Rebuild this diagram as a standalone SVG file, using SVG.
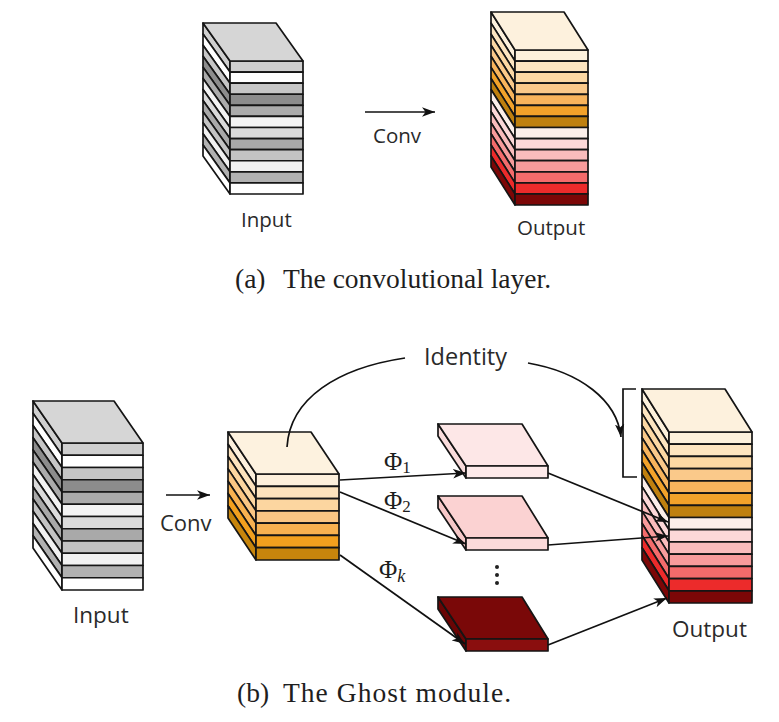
<svg xmlns="http://www.w3.org/2000/svg" width="779" height="722" viewBox="0 0 779 722">
<style>
.lbl{font-family:"Open Sans","DejaVu Sans",sans-serif;fill:#2a2a2a}
.cap{font-family:"Liberation Serif","Times New Roman",serif;fill:#1e1e1e;font-size:27.5px}
.phi{font-family:"Liberation Serif","DejaVu Serif",serif;fill:#1e1e1e}
.edge{stroke:#151515;stroke-width:1.7;stroke-linejoin:round}
.con{fill:none;stroke:#111;stroke-width:1.7}
</style>
<defs>
<marker id="ah" markerUnits="userSpaceOnUse" markerWidth="14" markerHeight="11" refX="13" refY="5.5" orient="auto">
<path d="M0,0.8 L13,5.5 L0,10.2 L3.5,5.5 z" fill="#111"/>
</marker>
<g id="grayS">
<rect y="0" width="1" height="1" fill="#cfcfcf" vector-effect="non-scaling-stroke"/>
<rect y="1" width="1" height="1" fill="#ffffff" vector-effect="non-scaling-stroke"/>
<rect y="2" width="1" height="1" fill="#c6c6c6" vector-effect="non-scaling-stroke"/>
<rect y="3" width="1" height="1" fill="#8c8c8c" vector-effect="non-scaling-stroke"/>
<rect y="4" width="1" height="1" fill="#ababab" vector-effect="non-scaling-stroke"/>
<rect y="5" width="1" height="1" fill="#f3f3f3" vector-effect="non-scaling-stroke"/>
<rect y="6" width="1" height="1" fill="#dadada" vector-effect="non-scaling-stroke"/>
<rect y="7" width="1" height="1" fill="#a9a9a9" vector-effect="non-scaling-stroke"/>
<rect y="8" width="1" height="1" fill="#c3c3c3" vector-effect="non-scaling-stroke"/>
<rect y="9" width="1" height="1" fill="#f1f1f1" vector-effect="non-scaling-stroke"/>
<rect y="10" width="1" height="1" fill="#b1b1b1" vector-effect="non-scaling-stroke"/>
<rect y="11" width="1" height="1" fill="#ffffff" vector-effect="non-scaling-stroke"/>
</g>
<g id="warmS">
<rect y="0" width="1" height="1" fill="#fdf1dc" vector-effect="non-scaling-stroke"/>
<rect y="1" width="1" height="1" fill="#fde5c0" vector-effect="non-scaling-stroke"/>
<rect y="2" width="1" height="1" fill="#fcd8a3" vector-effect="non-scaling-stroke"/>
<rect y="3" width="1" height="1" fill="#fac98a" vector-effect="non-scaling-stroke"/>
<rect y="4" width="1" height="1" fill="#f8b45c" vector-effect="non-scaling-stroke"/>
<rect y="5" width="1" height="1" fill="#f2a22a" vector-effect="non-scaling-stroke"/>
<rect y="6" width="1" height="1" fill="#bf800f" vector-effect="non-scaling-stroke"/>
<rect y="7" width="1" height="1" fill="#fcefea" vector-effect="non-scaling-stroke"/>
<rect y="8" width="1" height="1" fill="#fcd8d8" vector-effect="non-scaling-stroke"/>
<rect y="9" width="1" height="1" fill="#f9bcbc" vector-effect="non-scaling-stroke"/>
<rect y="10" width="1" height="1" fill="#f79b9b" vector-effect="non-scaling-stroke"/>
<rect y="11" width="1" height="1" fill="#f46b6b" vector-effect="non-scaling-stroke"/>
<rect y="12" width="1" height="1" fill="#ec2b2b" vector-effect="non-scaling-stroke"/>
<rect y="13" width="1" height="1" fill="#7c0707" vector-effect="non-scaling-stroke"/>
</g>
<g id="convS">
<rect y="0" width="1" height="1" fill="#fdf0dc" vector-effect="non-scaling-stroke"/>
<rect y="1" width="1" height="1" fill="#fde3bd" vector-effect="non-scaling-stroke"/>
<rect y="2" width="1" height="1" fill="#fcd6a0" vector-effect="non-scaling-stroke"/>
<rect y="3" width="1" height="1" fill="#fac683" vector-effect="non-scaling-stroke"/>
<rect y="4" width="1" height="1" fill="#f7b150" vector-effect="non-scaling-stroke"/>
<rect y="5" width="1" height="1" fill="#f2a01e" vector-effect="non-scaling-stroke"/>
<rect y="6" width="1" height="1" fill="#c7850c" vector-effect="non-scaling-stroke"/>
</g>
</defs>
<rect width="779" height="722" fill="#ffffff"/>

<g id="top-input">
<g class="edge" transform="translate(230,61)">
<use href="#grayS" transform="skewY(54.6) translate(-27,0) scale(27,11.083)"/>
<use href="#grayS" transform="scale(73,11.083)"/>
<polygon points="0,0 -27,-38 46,-38 73,0" fill="#d6d6d6"/>
</g>
<text class="lbl" x="241" y="227" font-size="20.5">Input</text>
</g>

<g id="top-output">
<g class="edge" transform="translate(515,50)">
<use href="#warmS" transform="skewY(57.7) translate(-24,0) scale(24,11.071)"/>
<use href="#warmS" transform="scale(73,11.071)"/>
<polygon points="0,0 -24,-38 49,-38 73,0" fill="#fdf1dd"/>
</g>
<text class="lbl" x="517" y="235" font-size="20.5">Output</text>
</g>

<g id="top-conv-label">
<text class="lbl" x="373" y="143" font-size="20.5">Conv</text>
</g>

<g id="ghost-input">
<g class="edge" transform="translate(62,443)">
<use href="#grayS" transform="skewY(55.4) translate(-29,0) scale(29,12.25)"/>
<use href="#grayS" transform="scale(81,12.25)"/>
<polygon points="0,0 -29,-42 52,-42 81,0" fill="#d6d6d6"/>
</g>
<text class="lbl" x="73" y="623" font-size="22.5">Input</text>
</g>

<g id="ghost-conv-label">
<text class="lbl" x="160" y="531" font-size="22">Conv</text>
</g>

<g id="intrinsic">
<g class="edge" transform="translate(256,474)">
<use href="#convS" transform="skewY(56.3) translate(-28,0) scale(28,12.286)"/>
<use href="#convS" transform="scale(83,12.286)"/>
<polygon points="0,0 -28,-42 55,-42 83,0" fill="#fdf2df"/>
</g>
</g>

<g id="ghost1" class="edge">
<polygon points="466,466 438,424 438,436 466,478" fill="#fadcdc"/>
<polygon points="466,466 438,424 522,424 548,466" fill="#fde7e7"/>
<rect x="466" y="466" width="82" height="12" fill="#fdeaea"/>
</g>
<g id="ghost2" class="edge">
<polygon points="466,538 438,496 438,508 466,550" fill="#f6c8c8"/>
<polygon points="466,538 438,496 522,496 548,538" fill="#fbd2d2"/>
<rect x="466" y="538" width="82" height="12" fill="#fcdada"/>
</g>
<g id="dots" fill="#222">
<circle cx="497" cy="567" r="2"/>
<circle cx="497" cy="575" r="2"/>
<circle cx="497" cy="583" r="2"/>
</g>
<g id="ghostk" class="edge">
<polygon points="466,639 438,597 438,609 466,651" fill="#6a0505"/>
<polygon points="466,639 438,597 522,597 548,639" fill="#7a0808"/>
<rect x="466" y="639" width="82" height="12" fill="#8a0e0e"/>
</g>

<g id="ghost-output">
<g class="edge" transform="translate(669,432)">
<use href="#warmS" transform="skewY(57.9) translate(-27,0) scale(27,12.214)"/>
<use href="#warmS" transform="scale(83,12.214)"/>
<polygon points="0,0 -27,-43 56,-43 83,0" fill="#fdf1dd"/>
</g>
<text class="lbl" x="672" y="637" font-size="22.5">Output</text>
</g>

<g id="connectors">
<line class="con" x1="365" y1="112" x2="435" y2="112" stroke-width="2.4" marker-end="url(#ah)"/>
<line class="con" x1="166" y1="495" x2="210" y2="495" stroke-width="2.4" marker-end="url(#ah)"/>
<line class="con" x1="340" y1="480" x2="466" y2="473" marker-end="url(#ah)"/>
<line class="con" x1="340" y1="492" x2="466" y2="544" marker-end="url(#ah)"/>
<line class="con" x1="340" y1="555" x2="465" y2="644" marker-end="url(#ah)"/>
<line class="con" x1="548" y1="473" x2="668" y2="522" marker-end="url(#ah)"/>
<line class="con" x1="548" y1="545" x2="668" y2="536" marker-end="url(#ah)"/>
<line class="con" x1="548" y1="645" x2="667" y2="598" marker-end="url(#ah)"/>
<path class="con" d="M287,447 C290,398 338,368 405,358"/>
<path class="con" d="M528,363 C580,372 617,400 621,437" marker-end="url(#ah)"/>
<path class="con" d="M636,389 H623 V477 H637" stroke-width="1.4"/>
<text class="lbl" x="424" y="365" font-size="23.5">Identity</text>
<text class="phi" x="384" y="470" font-size="25">Φ<tspan font-size="17" dy="3">1</tspan></text>
<text class="phi" x="384" y="509" font-size="25">Φ<tspan font-size="17" dy="3">2</tspan></text>
<text class="phi" x="379" y="578" font-size="25">Φ<tspan font-size="18" font-style="italic" dy="4">k</tspan></text>
</g>

<g id="captions">
<text class="cap" y="288"><tspan x="235">(a)</tspan><tspan x="283">The convolutional layer.</tspan></text>
<text class="cap" y="702"><tspan x="237">(b)</tspan><tspan x="283" textLength="228" lengthAdjust="spacing">The Ghost module.</tspan></text>
</g>
</svg>
